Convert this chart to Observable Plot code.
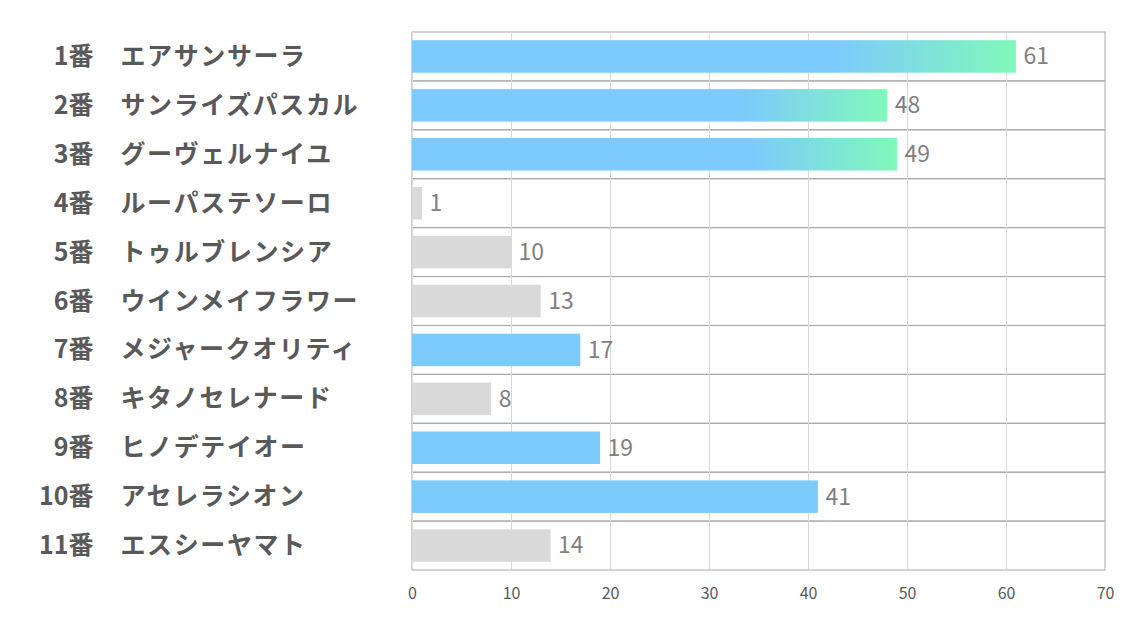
<!DOCTYPE html>
<html>
<head>
<meta charset="utf-8">
<script src="https://cdn.jsdelivr.net/npm/d3@7"></script>
<script src="https://cdn.jsdelivr.net/npm/@observablehq/plot@0.6"></script>
<style>
  html, body { margin: 0; padding: 0; background: #fff; }
  .ylab text { letter-spacing: 1.6px; }
</style>
</head>
<body>
<div id="chart"></div>
<script>
const numbers = ["1番", "2番", "3番", "4番", "5番", "6番", "7番", "8番", "9番", "10番", "11番"];
const names = ["エアサンサーラ", "サンライズパスカル", "グーヴェルナイユ", "ルーパステソーロ", "トゥルブレンシア", "ウインメイフラワー", "メジャークオリティ", "キタノセレナード", "ヒノデテイオー", "アセレラシオン", "エスシーヤマト"];
const values = [61, 48, 49, 1, 10, 13, 17, 8, 19, 41, 14];
const kinds = ["grad", "grad", "grad", "gray", "gray", "gray", "blue", "gray", "blue", "blue", "gray"];
const xTicks = [0, 10, 20, 30, 40, 50, 60, 70];

const data = names.map((n, i) => ({num: numbers[i], name: n, value: values[i], kind: kinds[i]}));
const numOf = new Map(data.map(d => [d.name, d.num]));

const font = "'Noto Sans CJK JP', 'Noto Sans', sans-serif";

const chart = Plot.plot({
  width: 1134,
  height: 623,
  marginLeft: 412,
  marginRight: 29,
  marginTop: 32,
  marginBottom: 53,
  style: {fontFamily: font, background: "#fff"},
  x: {domain: [0, 70], ticks: xTicks},
  y: {domain: names, padding: 0, round: false},
  marks: [
    Plot.barX(names, {y: d => d, x1: 0, x2: 70, fill: "none", stroke: "#a6a6a6", strokeWidth: 1}),
    Plot.gridX(xTicks, {stroke: "#d9d9d9", strokeOpacity: 1}),
    Plot.barX(data.filter(d => d.kind === "gray"), {y: "name", x: "value", fill: "#d9d9d9", insetTop: 8.2, insetBottom: 8.2}),
    Plot.barX(data.filter(d => d.kind === "blue"), {y: "name", x: "value", fill: "#7dcafc", insetTop: 8.2, insetBottom: 8.2}),
    Plot.barX(data.filter(d => d.kind === "grad"), {y: "name", x: "value", fill: "url(#barGrad)", insetTop: 8.2, insetBottom: 8.2}),
    Plot.text(data, {y: "name", x: "value", text: d => String(d.value), dx: 7, textAnchor: "start", fontSize: 23, fill: "#7f7f7f"}),
    Plot.axisX({ticks: xTicks, tickSize: 0, tickPadding: 17, fontSize: 16, color: "#595959", label: null}),
    Plot.axisY({tickSize: 0, tickPadding: 0, dx: -319, textAnchor: "end", tickFormat: d => numOf.get(d), fontSize: 25, fontWeight: "bold", color: "#595959", label: null}),
    Plot.axisY({tickSize: 0, tickPadding: 0, dx: -292, textAnchor: "start", tickFormat: d => d, fontSize: 25, fontWeight: "bold", color: "#595959", label: null, className: "ylab"})
  ]
});

const ns = "http://www.w3.org/2000/svg";
const defs = document.createElementNS(ns, "defs");
defs.innerHTML = '<linearGradient id="barGrad" x1="0" x2="1" y1="0" y2="0">' +
  '<stop offset="0" stop-color="#7dcafc"/>' +
  '<stop offset="0.7" stop-color="#7dcafc"/>' +
  '<stop offset="1" stop-color="#80f9ba"/>' +
  '</linearGradient>';
chart.insertBefore(defs, chart.firstChild);
document.getElementById("chart").appendChild(chart);
</script>
</body>
</html>
